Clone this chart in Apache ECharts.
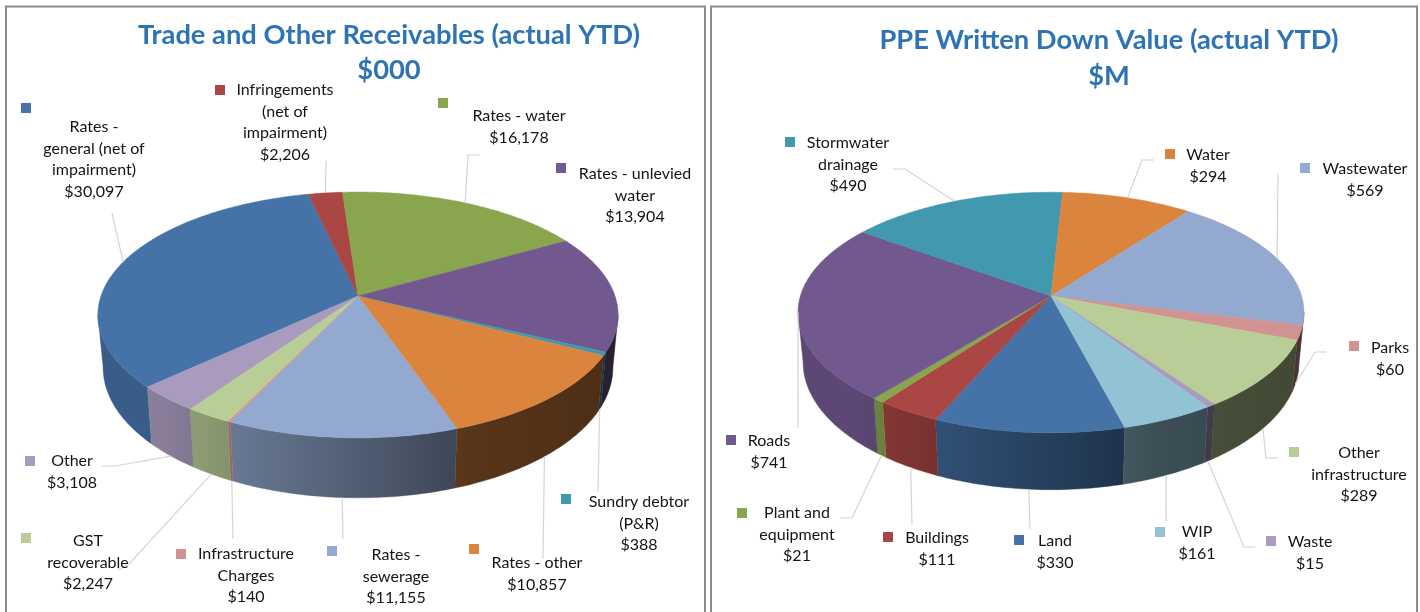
<!DOCTYPE html>
<html>
<head>
<meta charset="utf-8">
<style>html,body{margin:0;padding:0;background:#fff}#main{width:1420px;height:612px}</style>
<script src="https://cdn.jsdelivr.net/npm/echarts@6/dist/echarts.min.js"></script>
</head>
<body>
<div id="main"></div>
<script>
// data
var recvNames = ['Rates -\ngeneral (net of\nimpairment)', 'Infringements\n(net of\nimpairment)', 'Rates - water', 'Rates - unlevied\nwater', 'Sundry debtor\n(P&R)', 'Rates - other', 'Rates -\nsewerage', 'Infrastructure\nCharges', 'GST\nrecoverable', 'Other'];
var recvValues = [30097, 2206, 16178, 13904, 388, 10857, 11155, 140, 2247, 3108];
var recvColors = ['#4572a7', '#aa4643', '#89a54e', '#71588f', '#4198af', '#db843d', '#93a9cf', '#d19392', '#b9cd96', '#a99bbd'];

var ppeNames = ['Land', 'Buildings', 'Plant and\nequipment', 'Roads', 'Stormwater\ndrainage', 'Water', 'Wastewater', 'Parks', 'Other\ninfrastructure', 'Waste', 'WIP'];
var ppeValues = [330, 111, 21, 741, 490, 294, 569, 60, 289, 15, 161];
var ppeColors = ['#4572a7', '#aa4643', '#89a54e', '#71588f', '#4198af', '#db843d', '#93a9cf', '#d19392', '#b9cd96', '#a99bbd', '#92c3d4'];

// layout: [swatch x, swatch y, text centre x, first line y]
var recvLabelPos = [[21,103,94,127],[215,85,285,90],[438,98,519,116],[556,163,635,174],[561,494,639,502],[469,544,537,563],[327,546,396,555],[176,549,246,554],[21,533,88,541],[25,456,72,461]];
var ppeLabelPos = [[1014,535,1055,541],[883,532,937,538],[737,508,797,513],[726,435,769,441],[785,137,848,143],[1165,149,1208,155],[1300,163,1365,169],[1349,341,1390,348],[1289,447,1359,453],[1266,536,1310,542],[1155,527,1197,532]];
// leader elbows, the pie end of each leader comes from the slice's mid angle
var recvLeaders = [[[112,213]],[[326,161]],[[468,155],[480,155]],null,[[598,492]],[[543,559]],[[343,539]],[[233,539]],[[130,563],[118,570]],[[115,466],[102,466]]];
var ppeLeaders = [[[1030,529]],[[912,525]],[[852,518],[840,518]],[[798,428]],[[905,169],[893,169]],[[1142,160],[1154,160]],[[1278,174]],[[1315,352],[1326,352]],[[1266,458],[1278,458]],[[1244,547],[1255,547]],[[1166,521]]];

var recvPie = {ax: 358, ay: 296, A: 257, B: 120, k: 0.154, wall: 60, start: 227.2};
var ppePie = {ax: 1051, ay: 296, A: 250.6, B: 118, k: 0.137, wall: 57, start: 165.2};

var labelFont = '16px Lato';

function darken(hex, f) {
	var n = parseInt(hex.slice(1), 16);
	return 'rgb(' + Math.round((n >> 16) * f) + ',' + Math.round(((n >> 8) & 255) * f) + ',' + Math.round((n & 255) * f) + ')';
}

// wall gets darker from left to right, t is 0..1 across the pie
function shade(t) {
	if (t < 0.1) return 0.82;
	if (t < 0.72) return 0.82 - (t - 0.1) / 0.62 * 0.42;
	return 0.4 - (t - 0.72) / 0.28 * 0.05;
}

function topPoint(p, deg) {
	var r = deg * Math.PI / 180, u = Math.sin(r), v = Math.cos(r), w = 1 + p.k * v;
	return [p.ax + p.A * u / w, p.ay - p.B * v / w];
}

function bottomPoint(p, deg) {
	var t = topPoint(p, deg), front = p.ay + p.B / (1 - p.k);
	return [p.ax + 0.98 * (t[0] - p.ax), front + p.wall + 1.06 * (t[1] - front)];
}

function arcDegs(a, b) {
	var out = [], n = Math.max(2, Math.ceil(b - a));
	for (var i = 0; i <= n; i++) out.push(a + (b - a) * i / n);
	return out;
}

function pieSeries(p, names, values, colors, labelPos, leaders) {
	var total = 0, starts = [], sum = 0;
	values.forEach(function (v) { total += v; });
	values.forEach(function (v) { starts.push(p.start + sum / total * 360); sum += v; });
	var lo = Math.acos(-p.k) * 180 / Math.PI, hi = 360 - lo;

	return {
		type: 'custom',
		coordinateSystem: 'none',
		silent: true,
		data: values.map(function (v, i) { return [i, v]; }),
		renderItem: function (params, api) {
			var i = api.value(0), a = starts[i], b = a + api.value(1) / total * 360, color = colors[i];
			var children = [];

			// side wall, only the part facing us
			[-360, 0, 360].forEach(function (s) {
				var a2 = Math.max(a + s, lo), b2 = Math.min(b + s, hi);
				if (a2 >= b2) return;
				var degs = arcDegs(a2, b2), pts = [], minX = 1e9, maxX = -1e9;
				degs.forEach(function (d) { pts.push(topPoint(p, d)); });
				degs.slice().reverse().forEach(function (d) { pts.push(bottomPoint(p, d)); });
				pts.forEach(function (q) { minX = Math.min(minX, q[0]); maxX = Math.max(maxX, q[0]); });
				var stops = [];
				for (var k = 0; k <= 8; k++) {
					var x = minX + (maxX - minX) * k / 8;
					stops.push({offset: k / 8, color: darken(color, shade((x - p.ax + p.A) / (2 * p.A)))});
				}
				var grad = {type: 'linear', x: 0, y: 0, x2: 1, y2: 0, colorStops: stops};
				children.push({
					type: 'polygon',
					shape: {points: pts},
					style: {fill: grad, stroke: grad, lineWidth: 0.4}
				});
			});

			// top face
			var topPts = [[p.ax, p.ay]];
			arcDegs(a, b).forEach(function (d) { topPts.push(topPoint(p, d)); });
			children.push({type: 'polygon', shape: {points: topPts}, style: {fill: color, stroke: color, lineWidth: 0.5}});

			// leader line
			if (leaders[i]) {
				var mid = (a + b) / 2, rad = mid * Math.PI / 180;
				var from = Math.cos(rad) < -p.k ? bottomPoint(p, mid) : topPoint(p, mid);
				children.push({
					type: 'polyline',
					shape: {points: [from].concat(leaders[i])},
					style: {fill: null, stroke: '#d4d4d4', lineWidth: 1.2}
				});
			}

			// swatch and label
			var pos = labelPos[i];
			children.push({type: 'rect', shape: {x: pos[0], y: pos[1], width: 10, height: 10}, style: {fill: color}});
			children.push({
				type: 'text',
				style: {
					text: names[i] + '\n$' + api.value(1).toLocaleString('en-US'),
					x: pos[2], y: pos[3] - 10.75,
					align: 'center', verticalAlign: 'top',
					font: labelFont, lineHeight: 21.5, fill: '#141414'
				}
			});
			return {type: 'group', children: children};
		}
	};
}

var chart = echarts.init(document.getElementById('main'));
chart.setOption({
	animation: false,
	backgroundColor: '#ffffff',
	title: [
		{text: 'Trade and Other Receivables (actual YTD)\n$000', left: 384, top: 13, textAlign: 'center',
			textStyle: {fontFamily: 'Lato', fontWeight: 'bold', fontSize: 27.3, lineHeight: 35, color: '#2e74b5'}},
		{text: 'PPE Written Down Value (actual YTD)\n$M', left: 1104, top: 17, textAlign: 'center',
			textStyle: {fontFamily: 'Lato', fontWeight: 'bold', fontSize: 27.3, lineHeight: 36, color: '#2e74b5'}}
	],
	graphic: [
		{type: 'rect', shape: {x: 6, y: 6.5, width: 699, height: 620}, style: {fill: null, stroke: '#8c8c8c', lineWidth: 2}, z: -1},
		{type: 'rect', shape: {x: 711, y: 6.5, width: 706, height: 620}, style: {fill: null, stroke: '#8c8c8c', lineWidth: 2}, z: -1}
	],
	series: [
		pieSeries(recvPie, recvNames, recvValues, recvColors, recvLabelPos, recvLeaders),
		pieSeries(ppePie, ppeNames, ppeValues, ppeColors, ppeLabelPos, ppeLeaders)
	]
});
</script>
</body>
</html>
